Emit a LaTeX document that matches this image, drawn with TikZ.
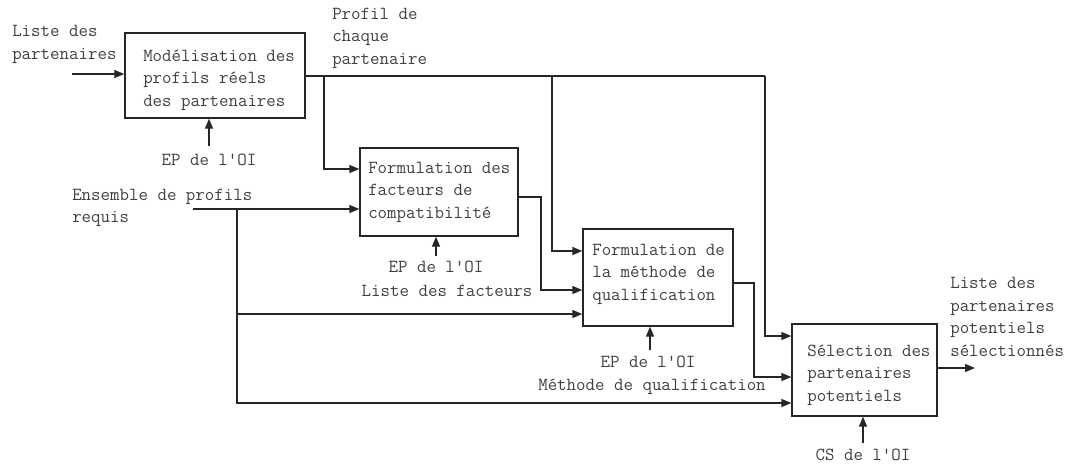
\documentclass[tikz,border=0pt]{standalone}
\usepackage{fontspec}
\usetikzlibrary{arrows.meta}
\begin{document}
\begin{tikzpicture}[x=0.75pt,y=-0.75pt,
  box/.style={draw=black!85, line width=1pt, inner sep=0pt},
  txt/.style={font=\ttfamily\fontsize{13.8}{16.9}\selectfont, text=black!75, inner sep=0pt, align=left},
  ctxt/.style={font=\ttfamily\fontsize{13.8}{16.9}\selectfont, text=black!75, inner sep=0pt, align=center},
  conn/.style={draw=black!85, line width=1pt},
  arr/.style={conn, -{Triangle[length=7.5pt,width=6pt]}}]
\useasboundingbox (0,0) rectangle (1066,467);
% boxes
\node[box, minimum width=135pt, minimum height=63.75pt] (b1) at (215,75.5) {};
\node[box, minimum width=118.5pt, minimum height=66pt] (b2) at (439,192) {};
\node[box, minimum width=112.5pt, minimum height=72.75pt] (b3) at (658,277.5) {};
\node[box, minimum width=108.75pt, minimum height=69pt] (b4) at (864.5,370) {};
% box texts
\node[txt, anchor=west] (t1) at (143,80) {Modélisation des\\profils réels\\des partenaires};
\node[txt, anchor=west] (t2) at (368,192) {Formulation des\\facteurs de\\compatibilité};
\node[txt, anchor=west] (t3) at (592,274) {Formulation de\\la méthode de\\qualification};
\node[txt, anchor=west] (t4) at (807,375) {Sélection des\\partenaires\\potentiels};
% labels
\node[txt, anchor=west] (l1) at (12,44.5) {Liste des\\partenaires};
\node[txt, anchor=west] (l2) at (332,38) {Profil de\\chaque\\partenaire};
\node[ctxt] (l3) at (209,160) {EP de l'OI};
\node[txt, anchor=west] (l4) at (72,208) {Ensemble de profils\\requis};
\node[ctxt] (l5) at (436,267) {EP de l'OI};
\node[ctxt] (l6) at (447,291) {Liste des facteurs};
\node[ctxt] (l7) at (648,362) {EP de l'OI};
\node[ctxt] (l8) at (652,387) {Méthode de qualification};
\node[txt, anchor=west] (l9) at (950,317) {Liste des\\partenaires\\potentiels\\sélectionnés};
\node[ctxt] (l10) at (863,455) {CS de l'OI};
% coordinates
\coordinate (in1) at (72,74);
\coordinate (j1) at (324,76);
\coordinate (j2) at (552,76);
\coordinate (j3) at (765,76);
\coordinate (k1) at (324,169);
\coordinate (k2) at (552,251);
\coordinate (k3) at (765,336);
\coordinate (e0) at (193,209);
\coordinate (j4) at (237,209);
\coordinate (e1) at (237,314);
\coordinate (e2) at (237,403);
\coordinate (m1) at (541,197);
\coordinate (m2) at (541,290);
\coordinate (n1) at (754,283);
\coordinate (n2) at (754,377);
\coordinate (out) at (975,368);
\coordinate (c1) at (209,146);
\coordinate (c2) at (436,256);
\coordinate (c3) at (650,350);
\coordinate (c4) at (863,443);
% connectors
\draw[arr] (in1) -- (in1 -| b1.west);
\draw[arr] (c1) -- (c1 |- b1.south);
\draw[conn] (b1.east |- j1) -- (j3);
\draw[arr] (j3) -- (k3) -- (k3 -| b4.west);
\draw[arr] (j1) -- (k1) -- (k1 -| b2.west);
\draw[arr] (j2) -- (k2) -- (k2 -| b3.west);
\draw[arr] (e0) -- (e0 -| b2.west);
\draw[arr] (j4) -- (e2) -- (e2 -| b4.west);
\draw[arr] (e1) -- (e1 -| b3.west);
\draw[arr] (b2.east |- m1) -- (m1) -- (m2) -- (m2 -| b3.west);
\draw[arr] (b3.east |- n1) -- (n1) -- (n2) -- (n2 -| b4.west);
\draw[arr] (b4.east |- out) -- (out);
\draw[arr] (c2) -- (c2 |- b2.south);
\draw[arr] (c3) -- (c3 |- b3.south);
\draw[arr] (c4) -- (c4 |- b4.south);
\end{tikzpicture}
\end{document}
